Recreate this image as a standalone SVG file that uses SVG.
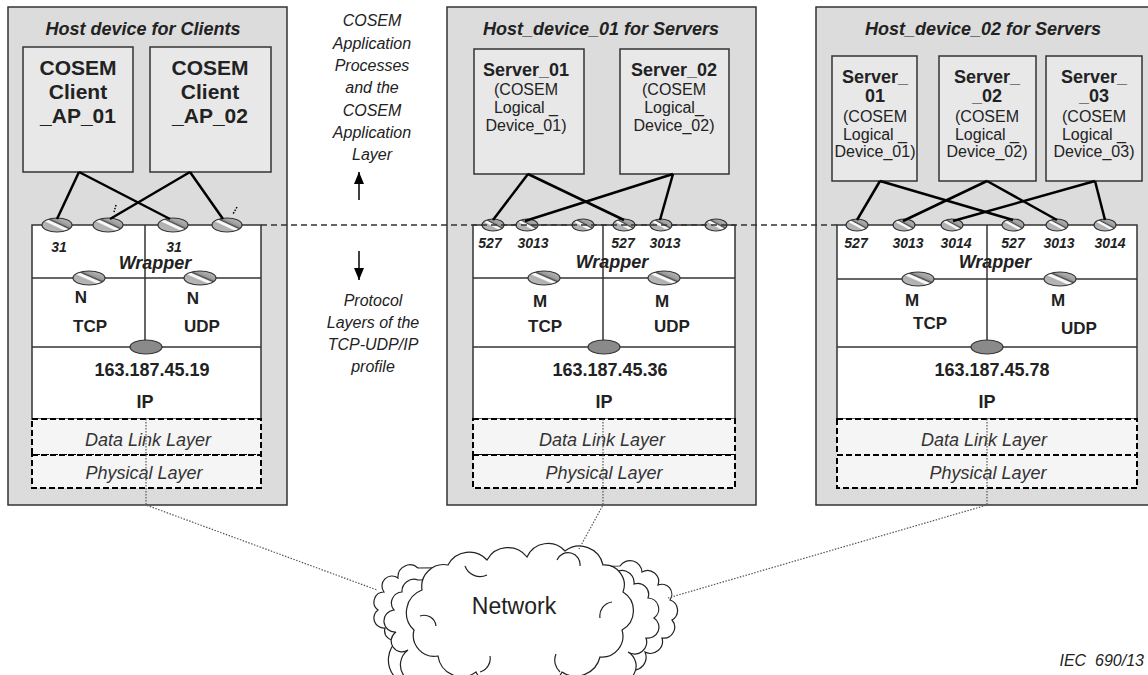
<svg xmlns="http://www.w3.org/2000/svg" width="1148" height="675" viewBox="0 0 1148 675">
<defs>
<linearGradient id="hatch" x1="0" y1="1" x2="1" y2="0">
<stop offset="0" stop-color="#bcbcbc"/>
<stop offset="0.40" stop-color="#b0b0b0"/>
<stop offset="0.46" stop-color="#ffffff"/>
<stop offset="0.53" stop-color="#f0f0f0"/>
<stop offset="0.57" stop-color="#4a4a4a"/>
<stop offset="0.64" stop-color="#9a9a9a"/>
<stop offset="1" stop-color="#cacaca"/>
</linearGradient>
<marker id="ah" viewBox="0 0 12 10" refX="12" refY="5" markerWidth="12" markerHeight="10" markerUnits="userSpaceOnUse" orient="auto">
<path d="M0,0 L12,5 L0,10 Z" fill="#000"/>
</marker>
</defs>
<style>
text{font-family:"Liberation Sans",Arial,sans-serif;fill:#222;text-anchor:middle}
.host{fill:#dcdcdc;stroke:#333;stroke-width:1.5}
.app{fill:#e8e8e8;stroke:#333;stroke-width:1.5}
.stack{fill:#fff;stroke:#333;stroke-width:1.5}
.sep{stroke:#333;stroke-width:1.5;fill:none}
.ll{fill:#f5f5f5;stroke:#000;stroke-width:2;stroke-dasharray:6,3}
.hp{fill:url(#hatch);stroke:#333;stroke-width:1.2}
.ip{fill:#8a8a8a;stroke:#333;stroke-width:1.2}
.title{font-weight:bold;font-style:italic;font-size:18px}
.client{font-weight:bold;font-size:21px}
.srv{font-weight:bold;font-size:18px}
.srvs{font-size:16px}
.port{font-weight:bold;font-style:italic;font-size:14px}
.wrap{font-weight:bold;font-style:italic;font-size:18px}
.lbl{font-weight:bold;font-size:17px}
.addr{font-weight:bold;font-size:18px}
.layer{font-style:italic;font-size:18px;fill:#333}
.side{font-style:italic;font-size:16px}
.conn{stroke:#000;stroke-width:2.5;fill:none}
.dot{stroke:#555;stroke-width:1.2;stroke-dasharray:1.5,1.5;fill:none}
.cloud{fill:#fff;stroke:#222;stroke-width:1.2}
</style>

<!-- Left host -->
<g id="host-clients">
<rect class="host" x="8" y="7" width="279" height="498"/>
<text class="title" x="143" y="35">Host device for Clients</text>
<g id="client-ap-01">
<rect class="app" x="23" y="47" width="110" height="125"/>
<text class="client" x="78" y="75">COSEM</text>
<text class="client" x="78" y="99">Client</text>
<text class="client" x="78" y="123">_AP_01</text>
</g>
<g id="client-ap-02">
<rect class="app" x="150" y="47" width="121" height="125"/>
<text class="client" x="210" y="75">COSEM</text>
<text class="client" x="210" y="99">Client</text>
<text class="client" x="210" y="123">_AP_02</text>
</g>
<g id="stack-clients">
<rect class="stack" x="32" y="225" width="229" height="194"/>
<line class="sep" x1="32" y1="278" x2="261" y2="278"/>
<line class="sep" x1="32" y1="347" x2="261" y2="347"/>
<line class="sep" x1="145" y1="225" x2="145" y2="347"/>
<text class="port" x="59" y="252">31</text>
<text class="port" x="174" y="252">31</text>
<text class="wrap" x="155" y="269">Wrapper</text>
<text class="lbl" x="81" y="303">N</text>
<text class="lbl" x="193" y="304">N</text>
<text class="lbl" x="90" y="332">TCP</text>
<text class="lbl" x="202" y="332">UDP</text>
<text class="addr" x="152" y="376">163.187.45.19</text>
<text class="addr" x="145" y="408">IP</text>
<rect class="ll" x="32" y="419" width="229" height="36"/>
<rect class="ll" x="32" y="455" width="229" height="33"/>
<text class="layer" x="148" y="446">Data Link Layer</text>
<text class="layer" x="144" y="479">Physical Layer</text>
<ellipse class="hp" cx="57" cy="225" rx="15" ry="7"/>
<ellipse class="hp" cx="108" cy="225" rx="15" ry="7"/>
<ellipse class="hp" cx="173" cy="225" rx="15" ry="7"/>
<ellipse class="hp" cx="227" cy="225" rx="15" ry="7"/>
<ellipse class="hp" cx="89" cy="278" rx="16" ry="7"/>
<ellipse class="hp" cx="200" cy="278" rx="16" ry="7"/>
<ellipse class="ip" cx="146" cy="347" rx="16" ry="7"/>
</g>
</g>

<!-- Middle host -->
<g id="host-device-01">
<rect class="host" x="447" y="7" width="309" height="498"/>
<text class="title" x="601" y="35">Host_device_01 for Servers</text>
<g id="server-01-a">
<rect class="app" x="474" y="49" width="110" height="125"/>
<text class="srv" x="526" y="76">Server_01</text>
<text class="srvs" x="526" y="95">(COSEM</text>
<text class="srvs" x="526" y="113">Logical _</text>
<text class="srvs" x="526" y="131">Device_01)</text>
</g>
<g id="server-02-a">
<rect class="app" x="620" y="49" width="109" height="125"/>
<text class="srv" x="674" y="76">Server_02</text>
<text class="srvs" x="674" y="95">(COSEM</text>
<text class="srvs" x="674" y="113">Logical_</text>
<text class="srvs" x="674" y="131">Device_02)</text>
</g>
<g id="stack-host-01">
<rect class="stack" x="473" y="225" width="262" height="194"/>
<line class="sep" x1="473" y1="278" x2="735" y2="278"/>
<line class="sep" x1="473" y1="347" x2="735" y2="347"/>
<line class="sep" x1="603" y1="225" x2="603" y2="347"/>
<text class="port" x="490" y="248">527</text>
<text class="port" x="533" y="248">3013</text>
<text class="port" x="623" y="248">527</text>
<text class="port" x="665" y="248">3013</text>
<text class="wrap" x="612" y="268">Wrapper</text>
<text class="lbl" x="540" y="307">M</text>
<text class="lbl" x="662" y="307">M</text>
<text class="lbl" x="545" y="332">TCP</text>
<text class="lbl" x="672" y="332">UDP</text>
<text class="addr" x="610" y="376">163.187.45.36</text>
<text class="addr" x="604" y="408">IP</text>
<rect class="ll" x="473" y="419" width="262" height="36"/>
<rect class="ll" x="473" y="455" width="262" height="33"/>
<text class="layer" x="602" y="446">Data Link Layer</text>
<text class="layer" x="604" y="479">Physical Layer</text>
<ellipse class="hp" cx="493" cy="225" rx="11" ry="6"/>
<ellipse class="hp" cx="527" cy="225" rx="11" ry="6"/>
<ellipse class="hp" cx="583" cy="225" rx="11" ry="6"/>
<ellipse class="hp" cx="624" cy="225" rx="11" ry="6"/>
<ellipse class="hp" cx="661" cy="225" rx="11" ry="6"/>
<ellipse class="hp" cx="716" cy="225" rx="11" ry="6"/>
<ellipse class="hp" cx="544" cy="278" rx="16" ry="7"/>
<ellipse class="hp" cx="664" cy="278" rx="16" ry="7"/>
<ellipse class="ip" cx="604" cy="347" rx="16" ry="7"/>
</g>
</g>

<!-- Right host -->
<g id="host-device-02">
<rect class="host" x="816" y="7" width="340" height="498"/>
<text class="title" x="983" y="35">Host_device_02 for Servers</text>
<g id="server-01-b">
<rect class="app" x="832" y="56" width="85" height="125"/>
<text class="srv" x="875" y="83">Server_</text>
<text class="srv" x="875" y="102">01</text>
<text class="srvs" x="875" y="122">(COSEM</text>
<text class="srvs" x="875" y="140">Logical _</text>
<text class="srvs" x="875" y="157">Device_01)</text>
</g>
<g id="server-02-b">
<rect class="app" x="939" y="56" width="97" height="125"/>
<text class="srv" x="987" y="83">Server_</text>
<text class="srv" x="987" y="102">_02</text>
<text class="srvs" x="987" y="122">(COSEM</text>
<text class="srvs" x="987" y="140">Logical _</text>
<text class="srvs" x="987" y="157">Device_02)</text>
</g>
<g id="server-03-b">
<rect class="app" x="1046" y="56" width="96" height="125"/>
<text class="srv" x="1094" y="83">Server_</text>
<text class="srv" x="1094" y="102">_03</text>
<text class="srvs" x="1094" y="122">(COSEM</text>
<text class="srvs" x="1094" y="140">Logical _</text>
<text class="srvs" x="1094" y="157">Device_03)</text>
</g>
<g id="stack-host-02">
<rect class="stack" x="837" y="225" width="300" height="194"/>
<line class="sep" x1="837" y1="279" x2="1137" y2="279"/>
<line class="sep" x1="837" y1="347" x2="1137" y2="347"/>
<line class="sep" x1="987" y1="225" x2="987" y2="347"/>
<text class="port" x="856" y="248">527</text>
<text class="port" x="908" y="248">3013</text>
<text class="port" x="956" y="248">3014</text>
<text class="port" x="1013" y="248">527</text>
<text class="port" x="1059" y="248">3013</text>
<text class="port" x="1110" y="248">3014</text>
<text class="wrap" x="995" y="268">Wrapper</text>
<text class="lbl" x="912" y="306">M</text>
<text class="lbl" x="1058" y="306">M</text>
<text class="lbl" x="930" y="329">TCP</text>
<text class="lbl" x="1079" y="334">UDP</text>
<text class="addr" x="992" y="376">163.187.45.78</text>
<text class="addr" x="987" y="408">IP</text>
<rect class="ll" x="837" y="419" width="300" height="36"/>
<rect class="ll" x="837" y="455" width="300" height="33"/>
<text class="layer" x="984" y="446">Data Link Layer</text>
<text class="layer" x="988" y="479">Physical Layer</text>
<ellipse class="hp" cx="857" cy="225" rx="11" ry="6"/>
<ellipse class="hp" cx="904" cy="225" rx="11" ry="6"/>
<ellipse class="hp" cx="952" cy="225" rx="11" ry="6"/>
<ellipse class="hp" cx="1013" cy="225" rx="11" ry="6"/>
<ellipse class="hp" cx="1057" cy="225" rx="11" ry="6"/>
<ellipse class="hp" cx="1105" cy="225" rx="11" ry="6"/>
<ellipse class="hp" cx="918" cy="279" rx="16" ry="7"/>
<ellipse class="hp" cx="1060" cy="279" rx="16" ry="7"/>
<ellipse class="ip" cx="987" cy="347" rx="16" ry="7"/>
</g>
</g>

<!-- Side labels -->
<g id="side-labels">
<text class="side" x="372" y="26">COSEM</text>
<text class="side" x="372" y="49">Application</text>
<text class="side" x="372" y="71">Processes</text>
<text class="side" x="372" y="93">and the</text>
<text class="side" x="372" y="116">COSEM</text>
<text class="side" x="372" y="138">Application</text>
<text class="side" x="372" y="160">Layer</text>
<text class="side" x="373" y="306">Protocol</text>
<text class="side" x="373" y="328">Layers of the</text>
<text class="side" x="373" y="350">TCP-UDP/IP</text>
<text class="side" x="373" y="372">profile</text>
</g>

<!-- Cloud -->
<g id="network">
<path class="cloud" d="M398,640 A10,10 0 0 1 385,628 A10,10 0 0 1 378,610 A10,10 0 0 1 384,592 A10,10 0 0 1 398,578 A12,12 0 0 1 418,568 L620,566 A12,12 0 0 1 642,572 A11,11 0 0 1 658,585 A10,10 0 0 1 670,600 A11,11 0 0 1 672,620 A11,11 0 0 1 662,638 A12,12 0 0 1 645,652 A13,13 0 0 1 622,664 A12,12 0 0 1 605,680 L430,680 A14,14 0 0 1 398,640 Z"/>
<path class="cloud" d="M408,650 A10,10 0 0 1 396,632 A11,11 0 0 1 394,610 A11,11 0 0 1 402,592 A12,12 0 0 1 418,580 L612,576 A12,12 0 0 1 634,584 A11,11 0 0 1 648,598 A11,11 0 0 1 654,618 A11,11 0 0 1 646,638 A12,12 0 0 1 628,652 A12,12 0 0 1 612,680 L430,680 A13,13 0 0 1 408,650 Z"/>
<path class="cloud" d="M414,630 A24,24 0 0 1 422,590 A22,22 0 0 1 448,565 A24,24 0 0 1 487,560 A24,24 0 0 1 527,557 A23,23 0 0 1 565,551 A24,24 0 0 1 603,565 A20,20 0 0 1 623,592 A22,22 0 0 1 622,630 A21,21 0 0 1 600,657 A25,25 0 0 1 562,672 A25,25 0 0 1 520,676 A26,26 0 0 1 476,672 A24,24 0 0 1 438,656 A21,21 0 0 1 414,630 Z"/>
<path class="cloud" style="fill:none" d="M436,626 A12,12 0 0 0 420,616 M465,566 A16,16 0 0 0 487,575 M580,566 A12,12 0 0 0 557,560 M600,618 A14,14 0 0 1 612,602 M560,672 A16,16 0 0 1 556,654 M480,672 A14,14 0 0 0 490,656"/>
<text x="514" y="614" style="font-size:23px">Network</text>
</g>

<!-- Connectors -->
<g id="connectors">
<line class="conn" x1="79" y1="172" x2="57" y2="219"/>
<line class="conn" x1="79" y1="172" x2="170" y2="219"/>
<line class="conn" x1="190" y1="172" x2="110" y2="219"/>
<line class="conn" x1="190" y1="172" x2="223" y2="219"/>
<line class="dot" x1="116" y1="205" x2="114" y2="212" style="stroke:#000;stroke-width:1.5"/>
<line class="dot" x1="237" y1="207" x2="233" y2="214" style="stroke:#000;stroke-width:1.5"/>
<line class="conn" x1="528" y1="174" x2="493" y2="220"/>
<line class="conn" x1="528" y1="174" x2="624" y2="220"/>
<line class="conn" x1="673" y1="174" x2="525" y2="221"/>
<line class="conn" x1="673" y1="174" x2="660" y2="220"/>
<line class="conn" x1="880" y1="181" x2="857" y2="220"/>
<line class="conn" x1="880" y1="181" x2="1013" y2="220"/>
<line class="conn" x1="987" y1="181" x2="903" y2="221"/>
<line class="conn" x1="987" y1="181" x2="1057" y2="220"/>
<line class="conn" x1="1095" y1="181" x2="953" y2="221"/>
<line class="conn" x1="1095" y1="181" x2="1105" y2="220"/>
<line x1="261" y1="225" x2="837" y2="225" style="stroke:#333;stroke-width:1.5;stroke-dasharray:6,4"/>
<line x1="359" y1="200" x2="359" y2="172" style="stroke:#000;stroke-width:1.5" marker-end="url(#ah)"/>
<line x1="359" y1="251" x2="359" y2="280" style="stroke:#000;stroke-width:1.5" marker-end="url(#ah)"/>
<polyline class="dot" points="146,419 146,505 377,590"/>
<polyline class="dot" points="603,419 603,505 579,549"/>
<polyline class="dot" points="987,419 987,505 668,598"/>
</g>

<text x="1144" y="666" style="font-style:italic;font-size:16px;text-anchor:end" xml:space="preserve">IEC  690/13</text>
</svg>
